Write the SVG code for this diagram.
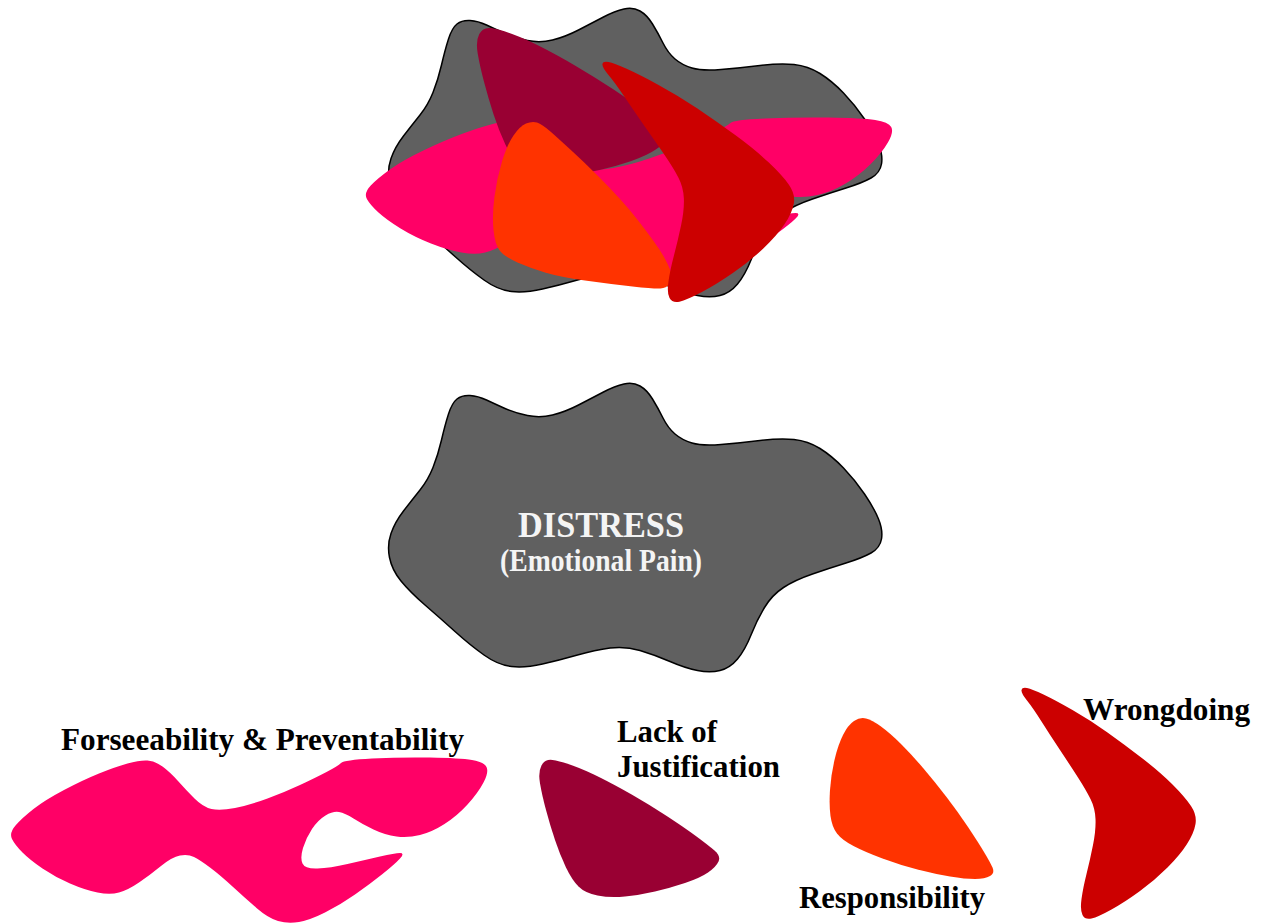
<svg xmlns="http://www.w3.org/2000/svg" xmlns:xlink="http://www.w3.org/1999/xlink" width="1264" height="924" viewBox="0 0 1264 924">
  <style>
    .blob { fill: #606060; stroke: #000; stroke-width: 1.5; }
    .pink { fill: #FF0066; }
    .maroon { fill: #990033; }
    .orange { fill: #FF3300; }
    .red { fill: #CC0000; }
    .lbl { font-family: "Liberation Serif", "Times New Roman", serif; font-weight: bold; font-size: 32px; fill: #000; }
    .wlbl { font-family: "Liberation Serif", "Times New Roman", serif; font-weight: bold; fill: #F4F4F4; }
  </style>
  <defs>
    <path id="blobPath" d="M457,399 Q462,395 470,395.5 Q478,396 486.5,400 Q495,404 505,408.5 Q515,413 527.5,415.5 Q540,418 552.5,415 Q565,412 578.5,405 Q592,398 603.5,392 Q615,386 624,384 Q633,382 640,386 Q647,390 652.5,399 Q658,408 663,418 Q668,428 675,434 Q682,440 692,443 Q702,446 721,444.5 Q740,443 760,440.5 Q780,438 794,439.5 Q808,441 820,448.5 Q832,456 843.5,468 Q855,480 864.5,494 Q874,508 878.5,519 Q883,530 881.5,539 Q880,548 871,553 Q862,558 846,563 Q830,568 812.5,574 Q795,580 783.5,587.5 Q772,595 764.5,607.5 Q757,620 751,635 Q745,650 737.5,659 Q730,668 720,670.5 Q710,673 697.5,670.5 Q685,668 670,661.5 Q655,655 640,650.5 Q625,646 610,648 Q595,650 577.5,655 Q560,660 542.5,664 Q525,668 511.5,666.5 Q498,665 484,655 Q470,645 455,631.5 Q440,618 425,605 Q410,592 401,581 Q392,570 389.5,557.5 Q387,545 391,533.5 Q395,522 403.5,511 Q412,500 420,490 Q428,480 433,467.5 Q438,455 441.5,440 Q445,425 448.5,414 Q452,403 457,399 Z"/>
    <path id="pinkPath" d="M12,839 Q9,833 15.5,825.5 Q22,818 33.5,809 Q45,800 64,790 Q83,780 99,773.5 Q115,767 127.5,763.5 Q140,760 147.5,760.5 Q155,761 162.5,766.5 Q170,772 178,781 Q186,790 194.5,798.5 Q203,807 211.5,809 Q220,811 235,808 Q250,805 267.5,798.5 Q285,792 300,785 Q315,778 326.5,772 Q338,766 341,763 Q344,760 372,758.5 Q400,757 430,757.5 Q460,758 472,760 Q484,762 486.5,767 Q489,772 483.5,782.5 Q478,793 467.5,804.5 Q457,816 444.5,824 Q432,832 420,835 Q408,838 396.5,836.5 Q385,835 373.5,829.5 Q362,824 353.5,818.5 Q345,813 339,812 Q333,811 325.5,815.5 Q318,820 312,829 Q306,838 303,848 Q300,858 302.5,863.5 Q305,869 317.5,868.5 Q330,868 347.5,864 Q365,860 380,856.5 Q395,853 400,853 Q405,853 400,858.5 Q395,864 382.5,874 Q370,884 355,894.5 Q340,905 325,912.5 Q310,920 299,922 Q288,924 278,921 Q268,918 256.5,908 Q245,898 232.5,886.5 Q220,875 210,867.5 Q200,860 194,857 Q188,854 180,855.5 Q172,857 161,866 Q150,875 139,882.5 Q128,890 119,892.5 Q110,895 97.5,892.5 Q85,890 70,883.5 Q55,877 42.5,868.5 Q30,860 22.5,852.5 Q15,845 12,839 Z"/>
    <path id="maroonPath" d="M541.5,765.5 Q545,759 552.5,760 Q560,761 572.5,765.5 Q585,770 600,777.5 Q615,785 632.5,795 Q650,805 667.5,816.5 Q685,828 696.5,836.5 Q708,845 714.5,850.5 Q721,856 718.5,861.5 Q716,867 708,872.5 Q700,878 685,883 Q670,888 655,891.5 Q640,895 625,896.5 Q610,898 597.5,895.5 Q585,893 578.5,886.5 Q572,880 566,867.5 Q560,855 555,840 Q550,825 546,810 Q542,795 540,783.5 Q538,772 541.5,765.5 Z"/>
    <path id="redPath" d="M1021.5,690 Q1022,687 1027,688 Q1032,689 1043.5,694.5 Q1055,700 1072.5,710 Q1090,720 1107.5,732.5 Q1125,745 1142.5,758.5 Q1160,772 1172.5,784.5 Q1185,797 1191,806 Q1197,815 1195.5,824 Q1194,833 1187,844 Q1180,855 1167.5,867.5 Q1155,880 1140,891 Q1125,902 1111.5,909.5 Q1098,917 1091.5,918.5 Q1085,920 1082.5,915 Q1080,910 1081.5,899 Q1083,888 1086.5,874 Q1090,860 1093,845 Q1096,830 1095.5,819 Q1095,808 1090.5,799 Q1086,790 1078,777.5 Q1070,765 1060,750 Q1050,735 1041.5,721.5 Q1033,708 1027,700.5 Q1021,693 1021.5,690 Z"/>
  </defs>

  <g id="composite">
    <use xlink:href="#blobPath" href="#blobPath" class="blob" transform="translate(0,-375)"/>
    <use xlink:href="#pinkPath" href="#pinkPath" class="pink" transform="translate(368,-640) scale(1.105,1) translate(-13,0)"/>
    <use xlink:href="#maroonPath" href="#maroonPath" class="maroon" transform="translate(483,27) scale(1.06,1.08) translate(-545,-759)"/>
    <path class="orange" d="M526,123.5 Q532,121 537,122.5 Q542,124 551,132 Q560,140 572.5,151.5 Q585,163 597.5,175.5 Q610,188 620,199 Q630,210 638.5,221 Q647,232 653.5,241 Q660,250 664,257 Q668,264 671,272 Q674,280 670,284 Q666,288 660.5,288.5 Q655,289 632.5,286.5 Q610,284 585,280.5 Q560,277 545,272.5 Q530,268 517.5,262.5 Q505,257 500,251 Q495,245 493.5,230 Q492,215 494.5,196.5 Q497,178 502,161.5 Q507,145 513.5,135.5 Q520,126 526,123.5 Z"/>
    <use xlink:href="#redPath" href="#redPath" class="red" transform="translate(603,62) scale(1.1,1.04) translate(-1022,-688)"/>
  </g>

  <g id="distress">
    <use xlink:href="#blobPath" href="#blobPath" class="blob"/>
    <text class="wlbl" x="518" y="537" font-size="35" textLength="166" lengthAdjust="spacingAndGlyphs">DISTRESS</text>
    <text class="wlbl" x="500" y="571" font-size="31" textLength="202" lengthAdjust="spacingAndGlyphs">(Emotional Pain)</text>
  </g>

  <g id="foreseeability">
    <use xlink:href="#pinkPath" href="#pinkPath" class="pink"/>
    <text class="lbl" x="61" y="750" textLength="403" lengthAdjust="spacingAndGlyphs">Forseeability &amp; Preventability</text>
  </g>

  <g id="justification">
    <use xlink:href="#maroonPath" href="#maroonPath" class="maroon"/>
    <text class="lbl" x="617" y="742" textLength="100" lengthAdjust="spacingAndGlyphs">Lack of</text>
    <text class="lbl" x="617" y="777" textLength="163" lengthAdjust="spacingAndGlyphs">Justification</text>
  </g>

  <g id="responsibility">
    <path class="orange" d="M854,721 Q860,717 866,718.5 Q872,720 881,726.5 Q890,733 901,744 Q912,755 923.5,768.5 Q935,782 946.5,797 Q958,812 968,827 Q978,842 984,852 Q990,862 992.5,867.5 Q995,873 990,876 Q985,879 975,879 Q965,879 950,876.5 Q935,874 917.5,869.5 Q900,865 882.5,858.5 Q865,852 853.5,846 Q842,840 837,833.5 Q832,827 830.5,816 Q829,805 830,790 Q831,775 834.5,760 Q838,745 843,735 Q848,725 854,721 Z"/>
    <text class="lbl" x="799" y="908" textLength="186" lengthAdjust="spacingAndGlyphs">Responsibility</text>
  </g>

  <g id="wrongdoing">
    <use xlink:href="#redPath" href="#redPath" class="red"/>
    <text class="lbl" x="1083" y="720" textLength="167" lengthAdjust="spacingAndGlyphs">Wrongdoing</text>
  </g>

  <g id="connectors"/>
</svg>
